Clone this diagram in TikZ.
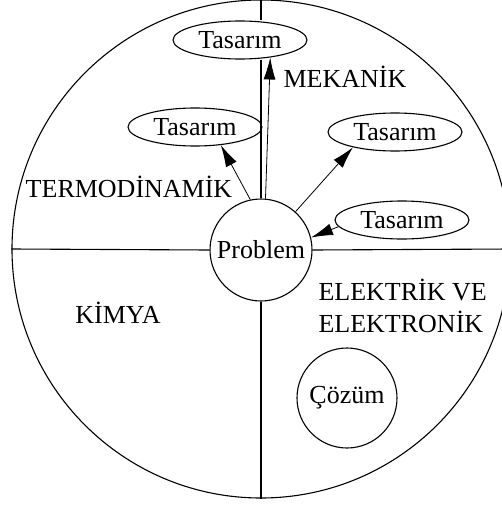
\documentclass[tikz,border=0pt]{standalone}
\usepackage{fontspec}
\setmainfont{Liberation Serif}
\usetikzlibrary{shapes.geometric,arrows.meta,positioning}

\tikzset{
  alan/.style={font=\fontsize{26}{32}\selectfont, inner sep=0pt},
  tasarim/.style={ellipse, draw, fill=white, minimum width=134pt,
    minimum height=38pt, inner sep=0pt, font=\fontsize{26}{30}\selectfont},
  daire/.style={circle, draw, fill=white, inner sep=0pt,
    font=\fontsize{26}{30}\selectfont}
}

\begin{document}
\begin{tikzpicture}[x=1pt, y=-1pt, line width=1.1pt,
    >={Latex[length=22pt,width=12pt]}]
  \useasboundingbox (0,0) rectangle (502,506);
  \node[circle, draw, minimum size=498pt] (cember) at (261,249) {};
  \node[daire, minimum size=102pt] (prob) at (261,250) {Problem};
  \node[daire, minimum size=100pt] (cozum) at (347,398) {Çözüm};
  \node[tasarim] (tasT) at (240,40) {Tasarım};
  \node[tasarim] (tasL) at (195,127) {Tasarım};
  \node[tasarim] (tasR) at (395,132) {Tasarım};
  \node[tasarim] (tasE) at (402,220) {Tasarım};
  % alan adlari
  \node[alan, anchor=west] (mek) at (283,77) {MEKANİK};
  \node[alan] (termo) at (129,187) {TERMODİNAMİK};
  \node[alan] (kimya) at (118,313) {KİMYA};
  \node[alan, anchor=west, align=left] (elek) at (318,306) {ELEKTRİK VE\\ELEKTRONİK};
  % eksenler
  \draw (cember.north) -- (cember.north |- tasT.north);
  \draw (cember.north |- tasT.south) -- (prob.north);
  \draw (cember.west) -- (prob.west);
  \draw (prob.east) -- (cember.east);
  \draw (prob.south) -- (cember.south);
  % oklar
  \draw[->, line width=0.8pt] (prob.85) -- (tasT.-30);
  \draw[->, line width=0.8pt] (prob.102) -- (tasL.-35);
  \draw[->, line width=0.8pt] (prob.48) -- (tasR.200);
  \draw[->, line width=0.8pt] (tasE.186) -- (prob.14);
\end{tikzpicture}
\end{document}
